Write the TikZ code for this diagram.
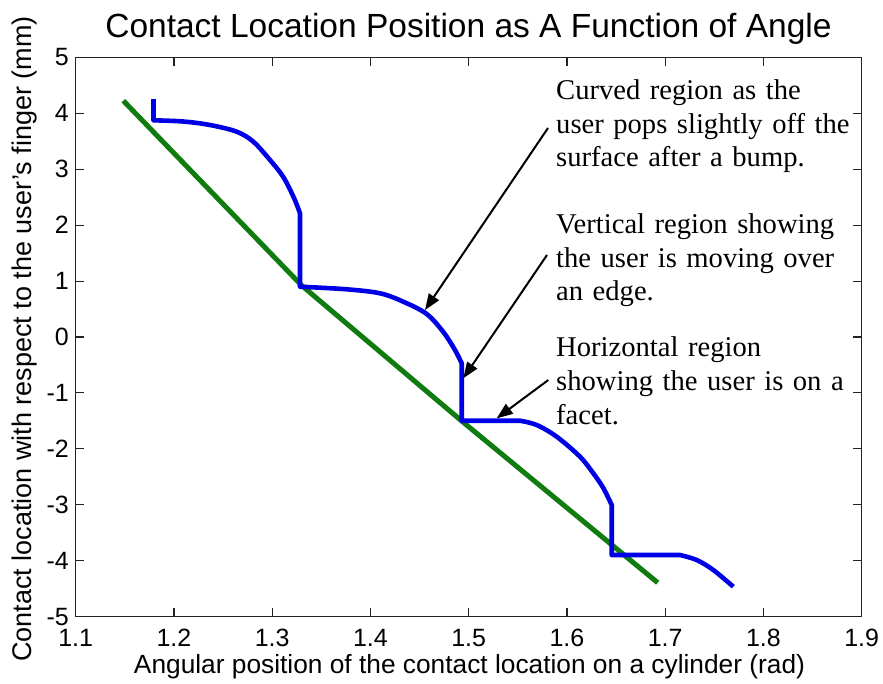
\documentclass[tikz,border=0pt]{standalone}
\usepackage{fontspec}
\setmainfont{Liberation Serif}
\setsansfont{Liberation Sans}
\usetikzlibrary{arrows.meta}
\definecolor{plotblue}{RGB}{0,0,230}
\definecolor{plotgreen}{RGB}{16,124,16}
\definecolor{axisgray}{RGB}{35,35,35}
\begin{document}
\begin{tikzpicture}[x=1pt,y=-1pt,
  axisline/.style={draw=axisgray,line width=1.1pt},
  ticklab/.style={font=\sffamily\fontsize{25}{25}\selectfont,inner sep=0pt,text=black},
  axislab/.style={font=\sffamily\fontsize{26.3}{26.3}\selectfont,inner sep=0pt,text=black},
  ylabstyle/.style={font=\sffamily\fontsize{27}{27}\selectfont,inner sep=0pt,text=black},
  titlelab/.style={font=\sffamily\fontsize{33.5}{33.5}\selectfont,inner sep=0pt,text=black},
  note/.style={font=\fontsize{28.6}{33.8}\selectfont,inner sep=0pt,anchor=base west,text width=330pt,align=left},
  pointer/.style={draw=black,line width=2pt,-{Triangle[length=16pt,width=12pt]}},
  bluecurve/.style={draw=plotblue,line width=4.6pt,line join=round},
  greencurve/.style={draw=plotgreen,line width=5pt}]
\useasboundingbox[fill=white] (0,0) rectangle (883,683);

% axes frame
\draw[axisline] (75.7,57.3) rectangle (861.7,616.7);
\foreach \i/\t in {0/1.1,1/1.2,2/1.3,3/1.4,4/1.5,5/1.6,6/1.7,7/1.8,8/1.9}{
  \pgfmathsetmacro\xx{75.7+\i*98.25}
  \draw[axisline] (\xx,616.7) -- (\xx,608.2);
  \draw[axisline] (\xx,57.3) -- (\xx,65.8);
  \node[ticklab,anchor=base] (xt\i) at (\xx,646) {\t};
}
\foreach \i/\t in {0/5,1/4,2/3,3/2,4/1,5/0,6/-1,7/-2,8/-3,9/-4,10/-5}{
  \pgfmathsetmacro\yy{57.3+\i*55.94}
  \draw[axisline] (75.7,\yy) -- (84.2,\yy);
  \draw[axisline] (861.7,\yy) -- (853.2,\yy);
  \node[ticklab,anchor=east] (yt\i) at (69,\yy) {\t};
}

% labels
\node[titlelab,anchor=base] (title) at (468.5,37.3) {Contact Location Position as A Function of Angle};
\node[axislab,anchor=base] (xlab) at (469.5,673.3) {Angular position of the contact location on a cylinder (rad)};
\node[ylabstyle,anchor=base,rotate=90] (ylab) at (31,339) {Contact location with respect to the user's finger (mm)};

% data
\draw[greencurve] (123.3,100.7) -- (301.7,285.5) -- (461.7,421) -- (657.7,582.7);
\draw[bluecurve] (153.5,99) -- (153.5,120.3)
  -- plot[smooth,tension=0.55] coordinates {(153.5,120.3) (183.3,121.5) (210,125) (236.7,131.7)
      (253.3,141.7) (270,160) (283.3,177) (294,198) (300,213.3)}
  -- (300,286.7)
  -- plot[smooth,tension=0.55] coordinates {(300,286.7) (346.7,289.3) (380,293.3) (403.3,301.7) (426.7,314)
      (443.3,332) (455,350) (461.7,363.3)}
  -- (461.7,420.7) -- (520,420.7)
  -- plot[smooth,tension=0.55] coordinates {(520,420.7) (536.7,425) (556.7,436.7) (580,456.7) (593.3,473.3)
      (603.3,488) (611.7,505)}
  -- (611.7,555) -- (680,555)
  -- plot[smooth,tension=0.55] coordinates {(680,555) (696.7,560) (713.3,570) (733.3,586.7)};

% annotations
\node[note] (n1) at (556,99.3) {Curved region as the\\user pops slightly off the\\surface after a bump.};
\node[note] (n2) at (556,233.3) {Vertical region showing\\the user is moving over\\an edge.};
\node[note] (n3) at (556,356.7) {Horizontal region\\showing the user is on a\\facet.};

\coordinate (t1) at (548,128);
\coordinate (h1) at (425,310);
\coordinate (t2) at (547,255);
\coordinate (h2) at (463.3,378.3);
\coordinate (t3) at (548.3,380);
\coordinate (h3) at (496.7,418.3);
\draw[pointer] (t1) -- (h1);
\draw[pointer] (t2) -- (h2);
\draw[pointer] (t3) -- (h3);
\end{tikzpicture}
\end{document}
